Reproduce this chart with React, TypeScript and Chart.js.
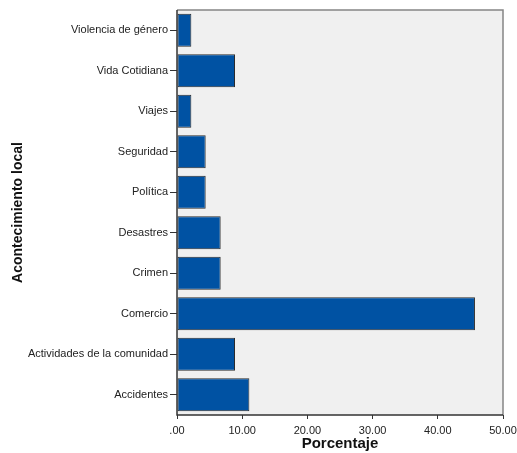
import React, { useEffect, useRef } from "react";
import { Chart, registerables } from "chart.js";

Chart.register(...registerables);

const categories = [
  "Violencia de género",
  "Vida Cotidiana",
  "Viajes",
  "Seguridad",
  "Política",
  "Desastres",
  "Crimen",
  "Comercio",
  "Actividades de la comunidad",
  "Accidentes",
];
const percentages = [2.2, 8.9, 2.2, 4.4, 4.4, 6.7, 6.7, 45.7, 8.9, 11.1];
const xTicks = [0, 10, 20, 30, 40, 50];

const FONT = "'Liberation Sans', Arial, sans-serif";

const framePlugin = {
  id: "frame",
  beforeDatasetsDraw(chart: any) {
    const { ctx, chartArea: a } = chart;
    ctx.save();
    ctx.fillStyle = "#f0f0f0";
    ctx.fillRect(a.left, a.top, a.right - a.left, a.bottom - a.top);
    ctx.restore();
  },
  afterDatasetsDraw(chart: any) {
    const { ctx, chartArea: a } = chart;
    ctx.save();
    ctx.lineWidth = 1.5;
    ctx.strokeStyle = "#858585";
    ctx.beginPath();
    ctx.moveTo(a.left, a.top);
    ctx.lineTo(a.right, a.top);
    ctx.lineTo(a.right, a.bottom);
    ctx.stroke();
    ctx.lineWidth = 1.5;
    ctx.strokeStyle = "#333333";
    ctx.beginPath();
    ctx.moveTo(a.left, a.top);
    ctx.lineTo(a.left, a.bottom);
    ctx.lineTo(a.right, a.bottom);
    ctx.stroke();
    ctx.restore();
  },
};

export default function App() {
  const ref = useRef<HTMLCanvasElement>(null);
  useEffect(() => {
    if (!ref.current) return;
    const chart = new Chart(ref.current, {
      type: "bar",
      data: {
        labels: categories,
        datasets: [
          {
            data: percentages,
            backgroundColor: "#0052a3",
            borderColor: "#2b2b2b",
            borderWidth: 1,
            borderSkipped: false,
            barPercentage: 0.81,
            categoryPercentage: 1,
          },
        ],
      },
      options: {
        indexAxis: "y",
        animation: false,
        responsive: false,
        maintainAspectRatio: false,
        layout: { padding: { top: 10, right: 14, left: 0, bottom: 0 } },
        plugins: { legend: { display: false }, tooltip: { enabled: false } },
        scales: {
          x: {
            min: 0,
            max: 50,
            afterBuildTicks(scale: any) {
              scale.ticks = xTicks.map((v) => ({ value: v }));
            },
            afterFit(scale: any) {
              scale.height = 38;
              scale.paddingLeft = 0;
              scale.paddingRight = 0;
            },
            ticks: {
              color: "#222",
              font: { family: FONT, size: 11 },
              padding: 5,
              maxRotation: 0,
              callback: (v: any) => (Number(v) === 0 ? ".00" : Number(v).toFixed(2)),
            },
            grid: {
              drawOnChartArea: false,
              drawTicks: true,
              tickLength: 4,
              color: "#333",
            },
            border: { display: false },
            title: {
              display: true,
              text: "Porcentaje",
              color: "#111",
              font: { family: FONT, size: 15, weight: "bold" },
              padding: { top: 0, bottom: 0 },
            },
          },
          y: {
            afterFit(scale: any) {
              scale.width = 177;
              scale.paddingTop = 0;
              scale.paddingBottom = 0;
            },
            ticks: {
              color: "#222",
              font: { family: FONT, size: 11 },
              padding: 2,
            },
            grid: {
              offset: false,
              drawOnChartArea: false,
              drawTicks: true,
              tickLength: 7,
              color: "#333",
            },
            border: { display: false },
            title: {
              display: true,
              text: "Acontecimiento local",
              color: "#111",
              font: { family: FONT, size: 14, weight: "bold" },
              padding: { top: 10, bottom: 0 },
            },
          },
        },
      },
      plugins: [framePlugin],
    });
    return () => chart.destroy();
  }, []);
  return (
    <div style={{ position: "absolute", left: 0, top: 0, width: 517, height: 453, background: "#fff" }}>
      <canvas ref={ref} width={517} height={453} style={{ width: 517, height: 453, display: "block" }} />
    </div>
  );
}
